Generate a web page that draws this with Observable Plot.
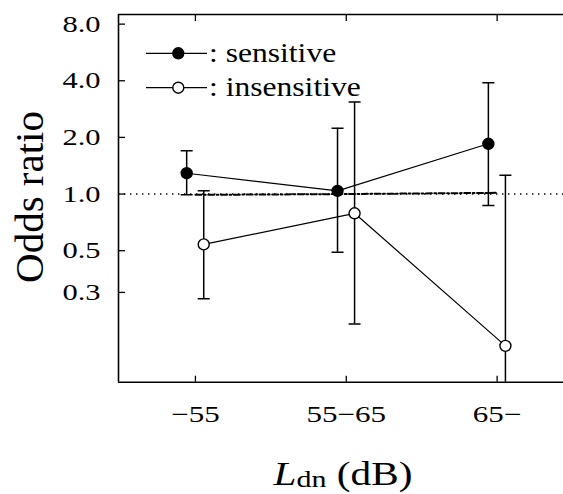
<!DOCTYPE html>
<html>
<head>
<meta charset="utf-8">
<script src="https://cdn.jsdelivr.net/npm/d3@7"></script>
<script src="https://cdn.jsdelivr.net/npm/@observablehq/plot@0.6"></script>
<style>
  html, body { margin: 0; padding: 0; background: #fff; overflow: hidden; }
  svg text { font-family: "Liberation Serif", "Times New Roman", serif; }
</style>
</head>
<body>
<div id="chart"></div>
<script>
// ---- data ----
const categories = ["−55", "55−65", "65−"];
const groups = ["sensitive", "insensitive"];
const sensitiveOR = [1.29, 1.04, 1.85];
const sensitiveLo = [0.99, 0.49, 0.87];
const sensitiveHi = [1.70, 2.24, 3.90];
const insensitiveOR = [0.54, 0.79, 0.156];
const insensitiveLo = [0.278, 0.204, 0.05];
const insensitiveHi = [1.04, 3.08, 1.26];
const trendOR = [0.99, 1.0, 1.015];
const yTicks = [0.3, 0.5, 1, 2, 4, 8];
const yTickLabels = ["0.3", "0.5", "1.0", "2.0", "4.0", "8.0"];

// ---- layout ----
const W = 563, H = 494;
const xDomain = [-0.51, 2.44];
const yDomain = [0.1, 9];
const offsets = {sensitive: -0.058, insensitive: 0.055};

const series = {
  sensitive: {v: sensitiveOR, lo: sensitiveLo, hi: sensitiveHi},
  insensitive: {v: insensitiveOR, lo: insensitiveLo, hi: insensitiveHi}
};
const rows = [];
for (const g of groups) {
  categories.forEach((c, i) => {
    rows.push({group: g, cat: c, x: i + offsets[g], v: series[g].v[i], lo: series[g].lo[i], hi: series[g].hi[i]});
  });
}
const caps = rows.flatMap(d => [{x: d.x, y: d.lo}, {x: d.x, y: d.hi}]);
const trendRows = categories.map((c, i) => ({x: i, v: trendOR[i]}));
const yLabelRows = yTicks.map((t, i) => ({t, label: yTickLabels[i]}));

const capSymbol = {
  draw(context, size) {
    const r = Math.sqrt(size / Math.PI);
    context.moveTo(-r, 0);
    context.lineTo(r, 0);
  }
};

const chart = Plot.plot({
  width: W,
  height: H,
  marginLeft: 118,
  marginRight: 0,
  marginTop: 14,
  marginBottom: 112.3,
  style: {fontFamily: "Liberation Serif, serif", background: "white"},
  x: {type: "linear", domain: xDomain},
  y: {type: "log", domain: yDomain},
  marks: [
    Plot.ruleY([1], {stroke: "black", strokeWidth: 1.4, strokeDasharray: "1.4,4.6"}),
    Plot.line(trendRows, {x: "x", y: "v", stroke: "black", strokeWidth: 2, strokeDasharray: "6,2.5,1.8,2.5"}),
    Plot.ruleX(rows, {x: "x", y1: "lo", y2: "hi", stroke: "black", strokeWidth: 1.5, clip: true}),
    Plot.dot(caps, {x: "x", y: "y", symbol: capSymbol, r: 6, stroke: "black", strokeWidth: 1.5, clip: true}),
    Plot.line(rows, {x: "x", y: "v", z: "group", stroke: "black", strokeWidth: 1.2}),
    Plot.dot(rows, {x: "x", y: "v", r: 5.5, stroke: "black", strokeWidth: 1.4,
      fill: d => d.group === "sensitive" ? "black" : "white"}),
    Plot.ruleX([xDomain[0]], {stroke: "black", strokeWidth: 1.6}),
    Plot.ruleY(yDomain, {stroke: "black", strokeWidth: 1.6}),
    Plot.axisY(yTicks, {anchor: "left", tickSize: -7, tickFormat: () => "", label: null, strokeWidth: 1.3}),
    Plot.text(yLabelRows, {x: xDomain[0], y: "t", text: "label", textAnchor: "end", dx: -18,
      fontSize: 24, fill: "black", className: "ylab"}),
    Plot.axisX([0, 1, 2], {anchor: "bottom", tickSize: -6, tickPadding: 29.3, fontSize: 23,
      tickFormat: i => categories[i], label: null, strokeWidth: 1.3}),
    Plot.axisX([0, 1, 2], {anchor: "top", tickSize: -6, tickFormat: () => "", label: null, strokeWidth: 1.3})
  ]
});

document.getElementById("chart").appendChild(chart);

const svg = d3.select(chart);

// stretch tick labels horizontally (reference typeface is wider)
function stretch(sel, s) {
  sel.each(function () {
    const t = this.getAttribute("transform");
    if (t) {
      this.setAttribute("transform", t + ` scale(${s},1)`);
    } else {
      const x = +this.getAttribute("x") || 0, y = +this.getAttribute("y") || 0;
      this.setAttribute("x", 0); this.setAttribute("y", 0);
      this.setAttribute("transform", `translate(${x},${y}) scale(${s},1)`);
    }
  });
}
stretch(svg.selectAll('g.ylab text'), 1.27);
stretch(svg.selectAll('g[aria-label="x-axis tick label"] text'), 1.35);

// legend
const legend = [
  {g: "sensitive", y: 53.3, fill: "black"},
  {g: "insensitive", y: 87.7, fill: "white"}
];
const lg = svg.append("g").attr("text-anchor", "start");
legend.forEach(l => {
  lg.append("line").attr("x1", 146).attr("x2", 207).attr("y1", l.y).attr("y2", l.y)
    .attr("stroke", "black").attr("stroke-width", 1.3);
  lg.append("circle").attr("cx", 178.3).attr("cy", l.y).attr("r", 5.5)
    .attr("fill", l.fill).attr("stroke", "black").attr("stroke-width", 1.4);
  lg.append("text").attr("transform", `translate(209,${l.y + 8.5}) scale(1.17,1)`)
    .attr("text-anchor", "start")
    .attr("font-size", 27).attr("fill", "black").text(": " + l.g);
});

// y axis title
svg.append("text")
  .attr("transform", "translate(43,197) rotate(-90)")
  .attr("text-anchor", "middle")
  .attr("font-size", 41)
  .attr("fill", "black")
  .text("Odds ratio");

// x axis title: L_dn (dB)
const xt = svg.append("text")
  .attr("transform", "translate(343,485) scale(1.25,1)")
  .attr("text-anchor", "middle")
  .attr("font-size", 33)
  .attr("fill", "black");
xt.append("tspan").attr("font-style", "italic").text("L");
xt.append("tspan").attr("font-size", 24).attr("dy", 2).text("dn");
xt.append("tspan").attr("dy", -2).text(" (dB)");
</script>
</body>
</html>
